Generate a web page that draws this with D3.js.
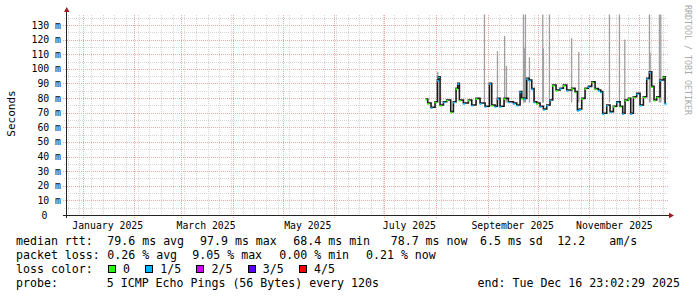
<!DOCTYPE html>
<html>
<head>
<meta charset="utf-8">
<script src="https://cdn.jsdelivr.net/npm/d3@7/dist/d3.min.js"></script>
<style>
  body { margin: 0; background: #fff; }
  svg { display: block; }
  text { font-family: "DejaVu Sans Mono", monospace; white-space: pre; }
</style>
</head>
<body>
<svg id="chart" width="697" height="297"></svg>
<script>
// ---- data ----
// median rtt samples: day of 2025 (0 = Jan 1), value in ms, loss level (0 = none, 1 = 1/5)
const medDays = [205.8, 207.0, 209.0, 211.4, 212.8, 213.4, 214.4, 216.4, 218.4, 220.8,
  222.4, 224.0, 225.0, 226.0, 228.4, 231.4, 233.4, 236.0, 238.4, 241.4,
  244.0, 245.4, 247.4, 248.8, 250.4, 252.8, 255.4, 258.4, 260.4, 262.4,
  263.4, 264.8, 266.4, 267.8, 269.4, 270.8, 272.4, 274.4, 276.4, 278.4,
  280.4, 282.0, 284.0, 286.4, 288.4, 290.4, 293.4, 295.4, 296.8, 298.0,
  299.4, 301.4, 303.4, 305.4, 307.4, 309.4, 310.8, 312.0, 314.4, 316.4,
  318.4, 320.4, 322.4, 324.0, 325.4, 327.4, 328.8, 330.4, 332.4, 334.4,
  336.4, 338.4, 340.0, 341.4, 342.8, 344.4, 346.4, 348.4, 349.4];
const medValues = [79.4, 76.6, 73.7, 77.5, 92.4, 94.6, 75.3, 77.5, 78.7, 70.7,
  77.5, 86.7, 90.1, 78.7, 76.6, 78.7, 75.3, 79.8, 76.6, 74.4,
  90.1, 75.3, 74.4, 79.8, 74.4, 79.8, 77.5, 76.6, 75.3, 84.4,
  80.0, 79.8, 93.5, 92.4, 86.5, 77.5, 76.6, 74.4, 72.5, 75.3,
  78.7, 88.9, 85.5, 86.7, 88.9, 85.5, 86.7, 84.4, 71.8, 72.5,
  79.8, 86.7, 88.0, 91.2, 86.5, 85.5, 84.4, 69.6, 75.3, 70.7,
  74.4, 77.5, 74.4, 69.6, 78.7, 79.8, 69.6, 80.9, 83.2, 75.3,
  80.9, 93.5, 98.0, 88.0, 78.7, 80.9, 92.4, 94.6, 76.6];
const medLoss = [0, 0, 1, 0, 1, 1, 0, 1, 0, 0,
  1, 0, 1, 0, 1, 0, 1, 0, 1, 1,
  1, 0, 1, 1, 1, 0, 1, 1, 1, 1,
  0, 1, 1, 1, 1, 1, 0, 1, 1, 1,
  1, 0, 0, 1, 0, 1, 0, 0, 1, 1,
  0, 0, 1, 0, 0, 1, 1, 1, 1, 1,
  0, 1, 0, 1, 0, 0, 1, 0, 1, 1,
  0, 1, 1, 0, 0, 0, 1, 0, 1];

// smoke spikes (max rtt of a sample), 140 = off the top of the graph
const smokeDays = [213.0, 241.0, 248.8, 253.1, 254.2, 264.4, 265.0, 265.6, 268.0, 276.0,
  276.4, 280.0, 293.3, 297.6, 316.0, 322.0, 325.2, 340.0, 340.4, 346.0, 346.8];
const smokeTops = [98, 140, 112, 122.5, 102, 140, 114, 140, 108, 140,
  114, 140, 121, 111.5, 140, 140, 120, 140, 111, 140, 140];

const yTickValues = [0, 10, 20, 30, 40, 50, 60, 70, 80, 90, 100, 110, 120, 130];
const labelMonths = ["2025-01-01", "2025-03-01", "2025-05-01", "2025-07-01", "2025-09-01", "2025-11-01"];

const lossNames = ["0", "1/5", "2/5", "3/5", "4/5"];
const lossColors = ["#26ff00", "#00b8ff", "#d000ff", "#5a00ff", "#ff0000"];

// gprint items of the two stats lines
const rttItems = ["median rtt:", "79.6 ms avg", "97.9 ms max", "68.4 ms min", "78.7 ms now", "6.5 ms sd", "12.2", "am/s"];
const lossItems = ["packet loss:", "0.26 % avg", "9.05 % max", "0.00 % min", "0.21 % now"];
const probeText = "probe:       5 ICMP Echo Pings (56 Bytes) every 120s";
const endText = "end: Tue Dec 16 23:02:29 2025";

// ---- chart ----
const DAY = 864e5;
const END = Date.UTC(2025, 11, 16, 23, 2, 29);
const dayToDate = d => new Date(Date.UTC(2025, 0, 1) + d * DAY);

const MARGINS = { left: 66, right: 666, top: 14.5, bottom: 215 };

const vis = d3.select("#chart");

const xRange = d3.scaleUtc()
  .domain([new Date(END - 360 * DAY), new Date(END)])
  .range([MARGINS.left, MARGINS.right]);
const yRange = d3.scaleLinear().domain([0, 130]).range([MARGINS.bottom, 25]);
const yMax = yRange.invert(MARGINS.top);

const grid = vis.append("g").attr("shape-rendering", "crispEdges");
const MINOR = "#d6d6d6", MAJOR = "#efaaaa";

// minor grid
const minorY = d3.range(5, yMax, 5).filter(v => v % 10 !== 0);
grid.selectAll(".hminor").data(minorY).join("line")
  .attr("x1", MARGINS.left - 2).attr("x2", MARGINS.right + 2)
  .attr("y1", d => Math.round(yRange(d)) + 0.5).attr("y2", d => Math.round(yRange(d)) + 0.5)
  .attr("stroke", MINOR).attr("stroke-dasharray", "1,1");

const weeks = d3.utcMonday.range(xRange.domain()[0], xRange.domain()[1]);
grid.selectAll(".vminor").data(weeks).join("line")
  .attr("x1", d => Math.round(xRange(d)) + 0.5).attr("x2", d => Math.round(xRange(d)) + 0.5)
  .attr("y1", MARGINS.top).attr("y2", MARGINS.bottom + 2)
  .attr("stroke", MINOR).attr("stroke-dasharray", "1,1");

// major grid
const majorY = d3.range(10, yMax, 10);
grid.selectAll(".hmajor").data(majorY).join("line")
  .attr("x1", MARGINS.left - 3).attr("x2", MARGINS.right + 2)
  .attr("y1", d => Math.round(yRange(d)) + 0.5).attr("y2", d => Math.round(yRange(d)) + 0.5)
  .attr("stroke", MAJOR).attr("stroke-dasharray", "1,1");

const months = d3.utcMonth.range(xRange.domain()[0], xRange.domain()[1]);
grid.selectAll(".vmajor").data(months).join("line")
  .attr("x1", d => Math.round(xRange(d)) + 0.5).attr("x2", d => Math.round(xRange(d)) + 0.5)
  .attr("y1", MARGINS.top).attr("y2", MARGINS.bottom + 3)
  .attr("stroke", MAJOR).attr("stroke-dasharray", "1,1");

// clip for the data
vis.append("clipPath").attr("id", "plotClip").append("rect")
  .attr("x", MARGINS.left).attr("y", MARGINS.top)
  .attr("width", MARGINS.right - MARGINS.left + 1).attr("height", MARGINS.bottom - MARGINS.top);

const plot = vis.append("g").attr("clip-path", "url(#plotClip)");

// smoke spikes
plot.selectAll(".smoke").data(smokeDays).join("rect")
  .attr("x", d => xRange(dayToDate(d)) - 0.6)
  .attr("width", 1.3)
  .attr("y", (d, i) => yRange(smokeTops[i]))
  .attr("height", (d, i) => yRange(77) - yRange(smokeTops[i]))
  .attr("fill", "#9f9f9f");

// median line
const points = medDays.map((d, i) => ({ t: dayToDate(d), v: medValues[i], loss: medLoss[i] }));
const lastPoint = { t: dayToDate(medDays[medDays.length - 1] + 0.5), v: medValues[medValues.length - 1] };

const lineFunc = d3.line()
  .x(d => xRange(d.t))
  .y(d => yRange(d.v))
  .curve(d3.curveStepAfter);

plot.append("path")
  .attr("d", lineFunc(points.concat([lastPoint])))
  .attr("stroke", "#1a1a1a")
  .attr("stroke-width", 1.6)
  .attr("fill", "none");

plot.selectAll(".loss").data(points).join("line")
  .attr("x1", d => xRange(d.t) - 0.5)
  .attr("x2", d => xRange(d.t) + 1.5)
  .attr("y1", d => yRange(d.v) + 0.8)
  .attr("y2", d => yRange(d.v) + 0.8)
  .attr("stroke", d => lossColors[d.loss])
  .attr("stroke-width", 1.6);

// axes
const axis = vis.append("g").attr("shape-rendering", "crispEdges");
axis.append("line")
  .attr("x1", MARGINS.left + 0.5).attr("x2", MARGINS.left + 0.5)
  .attr("y1", MARGINS.bottom + 3).attr("y2", 10)
  .attr("stroke", "#222");
axis.append("line")
  .attr("x1", MARGINS.left - 3).attr("x2", 670)
  .attr("y1", MARGINS.bottom + 0.5).attr("y2", MARGINS.bottom + 0.5)
  .attr("stroke", "#222");

vis.append("path")
  .attr("d", `M${MARGINS.left - 2},12 L${MARGINS.left + 3.5},12 L${MARGINS.left + 0.75},7 Z`)
  .attr("fill", "#9b1c1c");
vis.append("path")
  .attr("d", `M669,${MARGINS.bottom - 2.2} L669,${MARGINS.bottom + 3.2} L674,${MARGINS.bottom + 0.5} Z`)
  .attr("fill", "#9b1c1c");

// y tick labels
vis.selectAll(".ylab").data(yTickValues).join("text")
  .attr("x", d => d === 0 ? 47.5 : 61)
  .attr("y", d => yRange(d) + 3.5)
  .attr("text-anchor", "end")
  .style("font-size", "9.8px")
  .attr("fill", "#000")
  .text(d => d === 0 ? "0" : d + " m");

// x labels, centred on the middle of the month
vis.selectAll(".xlab").data(labelMonths).join("text")
  .attr("x", d => xRange(d3.utcDay.offset(new Date(d + "T00:00:00Z"), 15)))
  .attr("y", 228.5)
  .attr("text-anchor", "middle")
  .style("font-size", "9.8px")
  .attr("fill", "#000")
  .text(d => d3.utcFormat("%B %Y")(new Date(d + "T00:00:00Z")));

// y axis title
vis.append("text")
  .attr("transform", "translate(14.5,113.5) rotate(-90)")
  .attr("text-anchor", "middle")
  .style("font-size", "11px")
  .attr("fill", "#000")
  .text("Seconds");

// watermark
vis.append("text")
  .attr("transform", "translate(684.5,5) rotate(90)")
  .style("font-size", "8.3px")
  .attr("fill", "#aaaaaa")
  .text("RRDTOOL / TOBI OETIKER");

// legend / stats
const CHAR_W = 7.02;
const FONT = "11.6px";
const rttX = [16, 107.3, 200, 293.3, 390.7, 480, 557.3, 609.3];
const lossX = [16, 107.3, 192.3, 279.3, 366];

function textRow(items, xs, yPos) {
  items.forEach((s, i) => {
    vis.append("text")
      .attr("x", xs[i]).attr("y", yPos)
      .style("font-size", FONT)
      .attr("fill", "#000")
      .text(s);
  });
}
textRow(rttItems, rttX, 245);
textRow(lossItems, lossX, 259);

vis.append("text")
  .attr("x", 16).attr("y", 273)
  .style("font-size", FONT)
  .attr("fill", "#000")
  .text("loss color:");

let lx = 108.5;
lossNames.forEach((name, i) => {
  vis.append("rect")
    .attr("x", lx).attr("y", 265.5)
    .attr("width", 7).attr("height", 7)
    .attr("fill", lossColors[i])
    .attr("stroke", "#000")
    .attr("shape-rendering", "crispEdges");
  vis.append("text")
    .attr("x", lx + 14.5).attr("y", 273)
    .style("font-size", FONT)
    .attr("fill", "#000")
    .text(name);
  lx = lx + 14.5 + name.length * CHAR_W + 15.7;
});

vis.append("text")
  .attr("x", 16).attr("y", 287)
  .style("font-size", FONT)
  .attr("fill", "#000")
  .text(probeText);

vis.append("text")
  .attr("x", 680).attr("y", 287)
  .attr("text-anchor", "end")
  .style("font-size", FONT)
  .attr("fill", "#000")
  .text(endText);
</script>
</body>
</html>
